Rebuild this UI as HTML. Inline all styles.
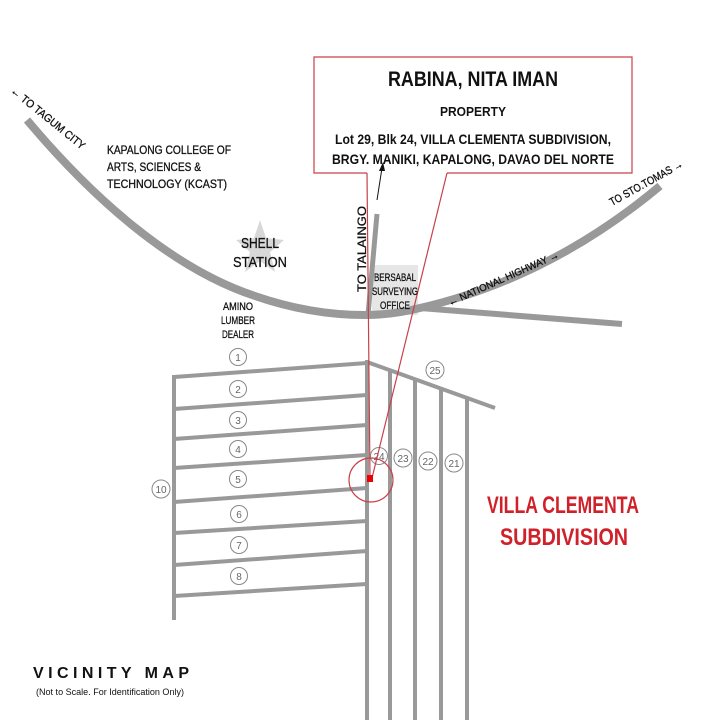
<!DOCTYPE html>
<html><head><meta charset="utf-8"><style>
html,body{margin:0;padding:0;background:#fff;}
svg{display:block;font-family:"Liberation Sans",sans-serif;}
</style></head><body>
<svg width="720" height="720" viewBox="0 0 720 720" xmlns="http://www.w3.org/2000/svg">
<rect width="720" height="720" fill="#fff"/>
<polygon points="260,220 266,238 284,240 270,252 275,272 260,261 245,272 250,252 236,240 254,238" fill="#d8d8d8"/>
<rect x="372" y="265" width="46" height="50" fill="#e6e6e6"/>
<g fill="none" stroke="#999" stroke-linecap="butt">
<path d="M27,120 C 90,195 170,268 255,296 Q 310,315 365,315 Q 392,315 420,308 C 520,285 600,236 660,186" stroke-width="8"/>
<path d="M420,308 L622,324" stroke-width="6"/>
<path d="M377,214 L368,315" stroke-width="5"/>
</g>
<g stroke="#999" stroke-width="4" fill="none">
<line x1="367" y1="360" x2="367" y2="720"/>
<line x1="174" y1="375" x2="174" y2="620"/>
<line x1="174" y1="377" x2="367" y2="363"/>
<line x1="174" y1="409" x2="367" y2="395"/>
<line x1="174" y1="439" x2="367" y2="425"/>
<line x1="174" y1="468" x2="367" y2="455"/>
<line x1="174" y1="502" x2="367" y2="488"/>
<line x1="174" y1="533" x2="367" y2="521"/>
<line x1="174" y1="565" x2="367" y2="551"/>
<line x1="174" y1="596" x2="367" y2="584"/>
<line x1="367" y1="362" x2="495" y2="408"/>
<line x1="390" y1="370" x2="390" y2="720"/>
<line x1="415" y1="379" x2="415" y2="720"/>
<line x1="441" y1="389" x2="441" y2="720"/>
<line x1="467" y1="398" x2="467" y2="720"/>
</g>
<g fill="#fff" stroke="#888" stroke-width="1">
<circle cx="238" cy="357" r="8.5"/><circle cx="238" cy="389" r="8.5"/><circle cx="238" cy="420" r="8.5"/>
<circle cx="238" cy="449" r="8.5"/><circle cx="238" cy="479" r="8.5"/><circle cx="239" cy="514" r="8.5"/>
<circle cx="239" cy="545" r="8.5"/><circle cx="239" cy="576" r="8.5"/><circle cx="161" cy="489" r="9"/>
<circle cx="435" cy="370" r="9"/><circle cx="379" cy="456" r="8.5"/><circle cx="403" cy="458" r="9"/>
<circle cx="428" cy="461" r="9"/><circle cx="454" cy="463" r="9"/>
</g>
<g fill="#666" font-size="10" text-anchor="middle">
<text x="238" y="361">1</text><text x="238" y="393">2</text><text x="238" y="424">3</text>
<text x="238" y="453">4</text><text x="238" y="483">5</text><text x="239" y="518">6</text>
<text x="239" y="549">7</text><text x="239" y="580">8</text><text x="161" y="493">10</text>
<text x="435" y="374">25</text><text x="379" y="460">24</text><text x="403" y="462">23</text>
<text x="428" y="465">22</text><text x="454" y="467">21</text>
</g>
<path d="M367,173 L314,173 L314,57 L632,57 L632,173 L447,173" fill="none" stroke="#c8404a" stroke-width="1.2"/>
<line x1="367" y1="173" x2="370" y2="478" stroke="#c8404a" stroke-width="1.2"/>
<line x1="447" y1="173" x2="372" y2="478" stroke="#c8404a" stroke-width="1.2"/>
<circle cx="371" cy="480" r="22" fill="none" stroke="#c8404a" stroke-width="1.2"/>
<rect x="367" y="475" width="6" height="7" fill="#e00"/>
<line x1="377" y1="200" x2="382" y2="168" stroke="#111" stroke-width="1"/>
<polygon points="383,162 379,171 385,171" fill="#111"/>
<g fill="#111" text-anchor="middle" font-weight="bold">
<text x="473" y="86" font-size="21" textLength="170" lengthAdjust="spacingAndGlyphs">RABINA, NITA IMAN</text>
<text x="473" y="116" font-size="13" textLength="66" lengthAdjust="spacingAndGlyphs">PROPERTY</text>
<text x="473" y="144" font-size="14" textLength="276" lengthAdjust="spacingAndGlyphs">Lot 29, Blk 24, VILLA CLEMENTA SUBDIVISION,</text>
<text x="473" y="164" font-size="14" textLength="282" lengthAdjust="spacingAndGlyphs">BRGY. MANIKI, KAPALONG, DAVAO DEL NORTE</text>
</g>
<g fill="#111" stroke="#111" stroke-width="0.3">
<text x="107" y="154" font-size="12" textLength="124" lengthAdjust="spacingAndGlyphs">KAPALONG COLLEGE OF</text>
<text x="107" y="171" font-size="12" textLength="94" lengthAdjust="spacingAndGlyphs">ARTS, SCIENCES &amp;</text>
<text x="107" y="188" font-size="12" textLength="120" lengthAdjust="spacingAndGlyphs">TECHNOLOGY (KCAST)</text>
<text x="260" y="248" font-size="15" text-anchor="middle" textLength="38" lengthAdjust="spacingAndGlyphs">SHELL</text>
<text x="260" y="267" font-size="15" text-anchor="middle" textLength="54" lengthAdjust="spacingAndGlyphs">STATION</text>
<text x="238" y="310" font-size="11" text-anchor="middle" textLength="30" lengthAdjust="spacingAndGlyphs">AMINO</text>
<text x="238" y="324" font-size="11" text-anchor="middle" textLength="34" lengthAdjust="spacingAndGlyphs">LUMBER</text>
<text x="238" y="338" font-size="11" text-anchor="middle" textLength="32" lengthAdjust="spacingAndGlyphs">DEALER</text>
<text x="395" y="281" font-size="11" text-anchor="middle" textLength="42" lengthAdjust="spacingAndGlyphs">BERSABAL</text>
<text x="395" y="295" font-size="11" text-anchor="middle" textLength="46" lengthAdjust="spacingAndGlyphs">SURVEYING</text>
<text x="395" y="309" font-size="11" text-anchor="middle" textLength="30" lengthAdjust="spacingAndGlyphs">OFFICE</text>
<text transform="translate(366,292) rotate(-90)" font-size="12" textLength="86" lengthAdjust="spacingAndGlyphs">TO   TALAINGO</text>
<text transform="translate(10,92) rotate(39)" font-size="11" textLength="92" lengthAdjust="spacingAndGlyphs">← TO TAGUM CITY</text>
<text transform="translate(612,206) rotate(-29)" font-size="11" textLength="82" lengthAdjust="spacingAndGlyphs">TO STO.TOMAS →</text>
<text transform="translate(450,306) rotate(-24)" font-size="10" textLength="120" lengthAdjust="spacingAndGlyphs">← NATIONAL HIGHWAY →</text>
</g>
<g fill="#111">
<text x="33" y="678" font-size="16" font-weight="bold" textLength="156" lengthAdjust="spacing">VICINITY MAP</text>
<text x="36" y="695" font-size="9" textLength="148" lengthAdjust="spacingAndGlyphs">(Not to Scale. For Identification Only)</text>
</g>
<g fill="#d0202a" font-weight="bold" text-anchor="middle">
<text x="563" y="513" font-size="24" textLength="152" lengthAdjust="spacingAndGlyphs">VILLA CLEMENTA</text>
<text x="564" y="545" font-size="24" textLength="128" lengthAdjust="spacingAndGlyphs">SUBDIVISION</text>
</g>
</svg>
</body></html>
